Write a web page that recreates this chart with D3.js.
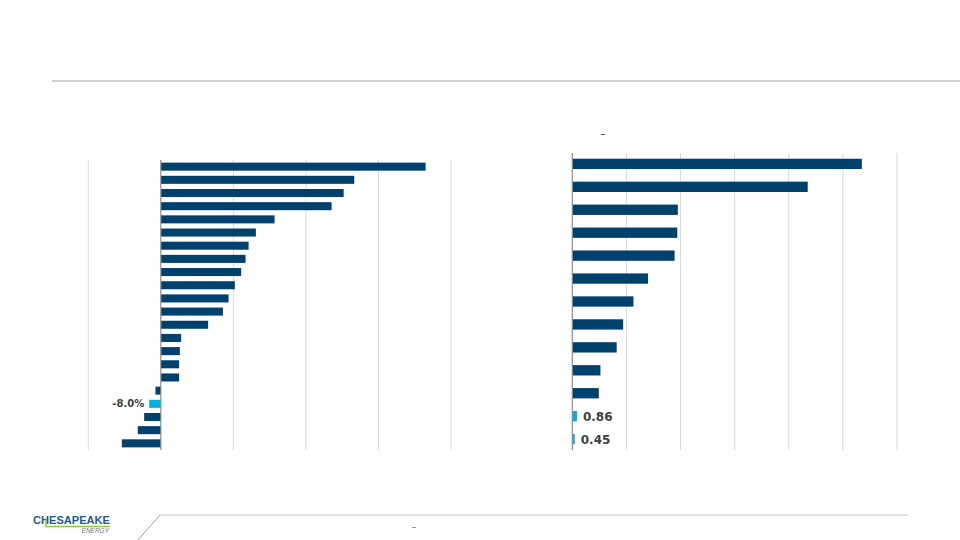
<!DOCTYPE html>
<html>
<head>
<meta charset="utf-8">
<script src="https://cdn.jsdelivr.net/npm/d3@7"></script>
<style>
  html, body { margin: 0; padding: 0; background: #ffffff; }
  svg { display: block; font-family: "Open Sans", "DejaVu Sans", sans-serif; }
</style>
</head>
<body>
<svg id="chart" width="960" height="540"></svg>
<script>
// ---- Data ----
// Left panel: percentage values (22 bars), highlight index 18
const leftCategories = ["L1","L2","L3","L4","L5","L6","L7","L8","L9","L10","L11","L12","L13","L14","L15","L16","L17","L18","L19","L20","L21","L22"];
const leftValues = [182.5, 133.3, 126.0, 117.7, 78.4, 65.5, 60.5, 58.4, 55.4, 51.0, 46.7, 42.8, 32.6, 14.0, 13.1, 12.6, 12.6, -3.7, -8.0, -11.5, -15.9, -26.9];
const leftHighlight = ["L19"];
const leftTicks = [-50, 0, 50, 100, 150, 200];

// Right panel: values (13 bars), highlight last two
const rightCategories = ["R1","R2","R3","R4","R5","R6","R7","R8","R9","R10","R11","R12","R13"];
const rightValues = [53.5, 43.5, 19.5, 19.4, 18.9, 14.0, 11.3, 9.4, 8.2, 5.2, 4.9, 0.86, 0.45];
const rightHighlight = ["R12","R13"];
const rightTicks = [0, 10, 20, 30, 40, 50, 60];

const DARK = "#00416e";
const LIGHT = "#00b0e0";
const GRID = "#d9d9d9";
const AXIS = "#8c8c8c";
const LABEL = "#404040";

const svg = d3.select("#chart");
const fmtPct = v => (v < 0 ? "-" : "") + Math.abs(v).toFixed(1) + "%";

// Header rule
svg.append("line").attr("x1", 52).attr("x2", 960).attr("y1", 81).attr("y2", 81)
  .attr("stroke", "#c0c0c0").attr("stroke-width", 1.5);

// ---- Left panel ----
{
  const x = d3.scaleLinear().domain([-50, 200]).range([88.3, 451]);
  const y = d3.scaleBand().domain(leftCategories).range([160, 450]).paddingInner(0.39).paddingOuter(0.2);
  const g = svg.append("g");
  g.selectAll("line.grid").data(leftTicks.filter(t => t !== 0)).join("line")
    .attr("class", "grid")
    .attr("x1", d => x(d)).attr("x2", d => x(d)).attr("y1", 160).attr("y2", 450)
    .attr("stroke", GRID).attr("stroke-width", 1);
  g.selectAll("rect").data(leftValues.map((v, i) => ({ c: leftCategories[i], v }))).join("rect")
    .attr("x", d => x(Math.min(0, d.v)))
    .attr("width", d => Math.abs(x(d.v) - x(0)))
    .attr("y", d => y(d.c))
    .attr("height", y.bandwidth())
    .attr("fill", d => leftHighlight.includes(d.c) ? LIGHT : DARK);
  g.append("line").attr("x1", x(0)).attr("x2", x(0)).attr("y1", 160).attr("y2", 450)
    .attr("stroke", AXIS).attr("stroke-width", 1.2);
  leftValues.forEach((v, i) => {
    const c = leftCategories[i];
    if (leftHighlight.includes(c)) {
      g.append("text").attr("x", x(v) - 5).attr("y", y(c) + y.bandwidth() / 2)
        .attr("dy", "0.36em").attr("text-anchor", "end")
        .attr("font-family", "'DejaVu Sans', Verdana, sans-serif")
        .attr("font-size", 10).attr("font-weight", "bold").attr("fill", LABEL)
        .text(fmtPct(v));
    }
  });
}

// ---- Right panel ----
{
  const x = d3.scaleLinear().domain([0, 60]).range([572.3, 897]);
  const y = d3.scaleBand().domain(rightCategories).range([153, 450]).paddingInner(0.55).paddingOuter(0.25);
  const g = svg.append("g");
  g.selectAll("line.grid").data(rightTicks.filter(t => t !== 0)).join("line")
    .attr("class", "grid")
    .attr("x1", d => x(d)).attr("x2", d => x(d)).attr("y1", 153).attr("y2", 450)
    .attr("stroke", GRID).attr("stroke-width", 1);
  g.selectAll("rect").data(rightValues.map((v, i) => ({ c: rightCategories[i], v }))).join("rect")
    .attr("x", x(0))
    .attr("width", d => x(d.v) - x(0))
    .attr("y", d => y(d.c))
    .attr("height", y.bandwidth())
    .attr("fill", d => rightHighlight.includes(d.c) ? LIGHT : DARK);
  g.append("line").attr("x1", x(0)).attr("x2", x(0)).attr("y1", 153).attr("y2", 450)
    .attr("stroke", AXIS).attr("stroke-width", 1.2);
  rightValues.forEach((v, i) => {
    const c = rightCategories[i];
    if (rightHighlight.includes(c)) {
      g.append("text").attr("x", x(v) + 6).attr("y", y(c) + y.bandwidth() / 2)
        .attr("dy", "0.38em").attr("text-anchor", "start")
        .attr("font-family", "'DejaVu Sans', Verdana, sans-serif")
        .attr("font-size", 12).attr("font-weight", "bold").attr("fill", LABEL)
        .text(v.toFixed(2));
    }
  });
  // small dash above the panel
  svg.append("text").attr("x", 603).attr("y", 137).attr("text-anchor", "middle")
    .attr("font-size", 10).attr("fill", "#404040").text("–");
}

// ---- Footer ----
svg.append("line").attr("x1", 160).attr("x2", 908).attr("y1", 515).attr("y2", 515)
  .attr("stroke", "#c8c8c8").attr("stroke-width", 1.2);
svg.append("line").attr("x1", 160).attr("x2", 137).attr("y1", 515).attr("y2", 541)
  .attr("stroke", "#a0a0a0").attr("stroke-width", 1);
svg.append("text").attr("x", 414).attr("y", 530).attr("text-anchor", "middle")
  .attr("font-size", 9).attr("fill", "#606060").text("–");

// Logo
svg.append("text").attr("x", 33).attr("y", 524)
  .attr("font-family", "'Liberation Sans', Arial, sans-serif")
  .attr("font-size", 11.5).attr("font-weight", "bold").attr("fill", "#1d5a8c")
  .attr("textLength", 77).attr("lengthAdjust", "spacingAndGlyphs")
  .text("CHESAPEAKE");
svg.append("path").attr("d", "M46,518 L46,526.5 L110,526.5")
  .attr("fill", "none").attr("stroke", "#8dc63f").attr("stroke-width", 1.5);
svg.append("text").attr("x", 109).attr("y", 533).attr("text-anchor", "end")
  .attr("font-family", "'Liberation Sans', Arial, sans-serif")
  .attr("font-size", 6.5).attr("font-style", "italic").attr("fill", "#707070")
  .text("ENERGY");
</script>
</body>
</html>
